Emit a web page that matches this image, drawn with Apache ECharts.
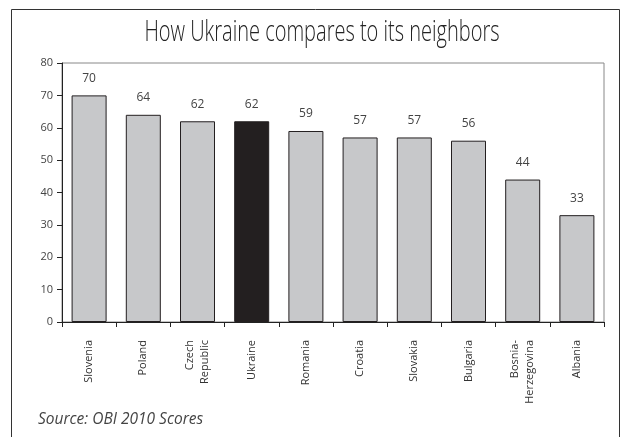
<!DOCTYPE html>
<html><head><meta charset="utf-8">
<script src="https://cdn.jsdelivr.net/npm/echarts@6/dist/echarts.min.js"></script>
<style>html,body{margin:0;padding:0;background:#fff}#c{width:630px;height:437px}</style>
</head><body><div id="c"></div>
<script>
const categories = ["Slovenia","Poland","Czech\nRepublic","Ukraine","Romania","Croatia","Slovakia","Bulgaria","Bosnia-\nHerzegovina","Albania"];
const scores = [70,64,62,62,59,57,57,56,44,33];
const highlight = "Ukraine";
const yTicks = {min:0, max:80, interval:10};

const chart = echarts.init(document.getElementById('c'), null, {renderer:'canvas'});
const font = '"Open Sans", "Noto Sans", sans-serif';
chart.setOption({
  animation:false,
  backgroundColor:'#fff',
  graphic:[
    {type:'rect', shape:{x:11.5,y:9.5,width:608,height:440}, style:{fill:null, stroke:'#333', lineWidth:1}, silent:true},
    {type:'text', x:322, y:33, scaleX:0.69, scaleY:1, style:{x:0, y:0, text:'How Ukraine compares to its neighbors', fontFamily:font, fontSize:29, fontWeight:300, fill:'#222', textAlign:'center', verticalAlign:'middle'}},
    {type:'text', x:38, y:420, style:{x:0, y:0, text:'Source: OBI 2010 Scores', fontFamily:font, fontSize:15.5, fontStyle:'italic', fill:'#444', textAlign:'left', verticalAlign:'middle'}}
  ],
  grid:{left:62, right:26, top:63, bottom:115, show:true, borderColor:'#888', borderWidth:1},
  xAxis:{type:'category', data:categories,
    axisLine:{lineStyle:{color:'#222'}},
    axisTick:{show:true, length:5, lineStyle:{color:'#222'}},
    axisLabel:{rotate:90, margin:18, interval:0, fontFamily:font, fontSize:11, color:'#333', lineHeight:15}},
  yAxis:{type:'value', min:yTicks.min, max:yTicks.max, interval:yTicks.interval,
    axisLine:{show:true, lineStyle:{color:'#222'}},
    axisTick:{show:true, length:5, lineStyle:{color:'#222'}},
    splitLine:{show:false},
    axisLabel:{fontFamily:font, fontSize:11, color:'#444', margin:9}},
  series:[{type:'bar', barWidth:35,
    data:scores.map((v,i)=>({value:v, itemStyle:{color: categories[i]===highlight ? '#231f20' : '#c7c8ca'}})),
    itemStyle:{borderColor:'#231f20', borderWidth:1},
    label:{show:true, position:'top', distance:11, fontFamily:font, fontSize:12, color:'#444'}}]
});
</script></body></html>
